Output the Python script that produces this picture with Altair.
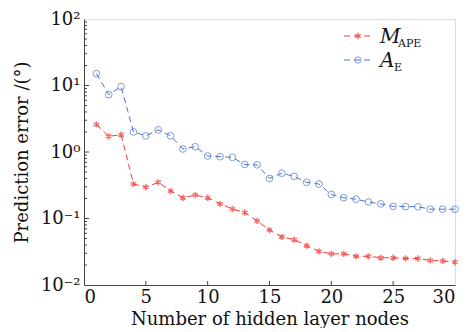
import altair as alt
import pandas as pd

nodes = list(range(1, 31))
mape = [2.6, 1.72, 1.82, 0.33, 0.295, 0.35, 0.26, 0.205, 0.225, 0.205,
        0.166, 0.139, 0.123, 0.092, 0.067, 0.053, 0.048, 0.039, 0.032, 0.0294,
        0.0294, 0.027, 0.027, 0.0257, 0.0257, 0.025, 0.025, 0.0234, 0.023, 0.022]
ae = [15.1, 7.3, 9.6, 2.0, 1.75, 2.15, 1.75, 1.11, 1.2, 0.87,
      0.85, 0.83, 0.65, 0.64, 0.40, 0.48, 0.43, 0.35, 0.33, 0.23,
      0.205, 0.195, 0.177, 0.166, 0.152, 0.151, 0.15, 0.138, 0.138, 0.138]
x_ticks = [0, 5, 10, 15, 20, 25, 30]
y_major = [0.01, 0.1, 1, 10, 100]
y_minor = [m * 10 ** k for k in range(-2, 2) for m in range(2, 10)]

W, H = 371, 266
RED = "#f23a3a"
BLUE = "#4a72cc"
FONT = "DejaVu Serif"
ASTER = "M0,-1L0,1M-0.87,-0.5L0.87,0.5M-0.87,0.5L0.87,-0.5"

df_m = pd.DataFrame({"n": nodes, "v": mape})
df_a = pd.DataFrame({"n": nodes, "v": ae})

xs = alt.Scale(domain=[0, 30], nice=False)
ys = alt.Scale(type="log", domain=[0.01, 100], nice=False)

label_expr = ("datum.value == 100 ? '10²' : datum.value == 10 ? '10¹' : "
              "datum.value == 1 ? '10⁰' : datum.value == 0.1 ? '10⁻¹' : '10⁻²'")

x_enc = alt.X("n:Q", scale=xs, axis=alt.Axis(
    values=x_ticks, title="Number of hidden layer nodes", ticks=False,
    labelFont=FONT, labelFontSize=18, titleFont=FONT, titleFontSize=18,
    titleFontWeight="normal", labelColor="#111", titleColor="#111",
    labelPadding=3, titlePadding=4, grid=False, domainColor="#444"))
y_enc = alt.Y("v:Q", scale=ys, axis=alt.Axis(
    values=y_major, labelExpr=label_expr, title="Prediction error /(°)", ticks=False,
    labelFont=FONT, labelFontSize=18, titleFont=FONT, titleFontSize=18,
    titleFontWeight="normal", labelColor="#111", titleColor="#111",
    labelPadding=4, titlePadding=9, grid=False, domainColor="#444"))

line_m = alt.Chart(df_m).mark_line(color=RED, strokeDash=[6, 4], strokeWidth=1).encode(x=x_enc, y=y_enc)
pts_m = alt.Chart(df_m).mark_point(shape=ASTER, color=RED, size=40, strokeWidth=1.5, filled=False).encode(x="n:Q", y="v:Q")
line_a = alt.Chart(df_a).mark_line(color=BLUE, strokeDash=[6, 4], strokeWidth=1).encode(x="n:Q", y="v:Q")
pts_a = alt.Chart(df_a).mark_point(shape="circle", color=BLUE, size=45, strokeWidth=1, filled=False).encode(x="n:Q", y="v:Q")

xt = alt.Chart(pd.DataFrame({"t": x_ticks[1:-1]})).mark_rule(color="#444", strokeWidth=1).encode(
    x=alt.X("t:Q", scale=xs), y=alt.value(H), y2=alt.value(H - 4))
yt_major = alt.Chart(pd.DataFrame({"t": y_major[1:-1]})).mark_rule(color="#444", strokeWidth=1).encode(
    y=alt.Y("t:Q", scale=ys), x=alt.value(0), x2=alt.value(5))
yt_minor = alt.Chart(pd.DataFrame({"t": y_minor})).mark_rule(color="#444", strokeWidth=1).encode(
    y=alt.Y("t:Q", scale=ys), x=alt.value(0), x2=alt.value(3))

one = alt.InlineData(values=[{"k": 1}])
legend_layers = []
for yy, col, shape, main, sub, sx in [(17, RED, ASTER, "M", "APE", 314), (41, BLUE, "circle", "A", "E", 310)]:
    legend_layers.append(alt.Chart(one).mark_rule(color=col, strokeDash=[6, 4], strokeWidth=1).encode(
        x=alt.value(260), x2=alt.value(288), y=alt.value(yy)))
    legend_layers.append(alt.Chart(one).mark_point(shape=shape, color=col, size=40,
                                                   strokeWidth=1.5 if shape == ASTER else 1, filled=False).encode(
        x=alt.value(274), y=alt.value(yy)))
    legend_layers.append(alt.Chart(one).mark_text(text=main, font=FONT, fontSize=20, fontStyle="italic",
                                                  align="left", baseline="alphabetic", color="#111").encode(
        x=alt.value(296), y=alt.value(yy + 7)))
    legend_layers.append(alt.Chart(one).mark_text(text=sub, font=FONT, fontSize=11,
                                                  align="left", baseline="alphabetic", color="#111").encode(
        x=alt.value(sx), y=alt.value(yy + 11)))

chart = alt.layer(line_m, line_a, pts_m, pts_a, xt, yt_major, yt_minor, *legend_layers).properties(
    width=W, height=H, padding={"left": 5, "top": 2, "right": 0, "bottom": 0}
).configure_view(stroke="#999", strokeWidth=1).configure(background="white")

chart.save("out.html", embed_options={"renderer": "svg", "actions": False})
